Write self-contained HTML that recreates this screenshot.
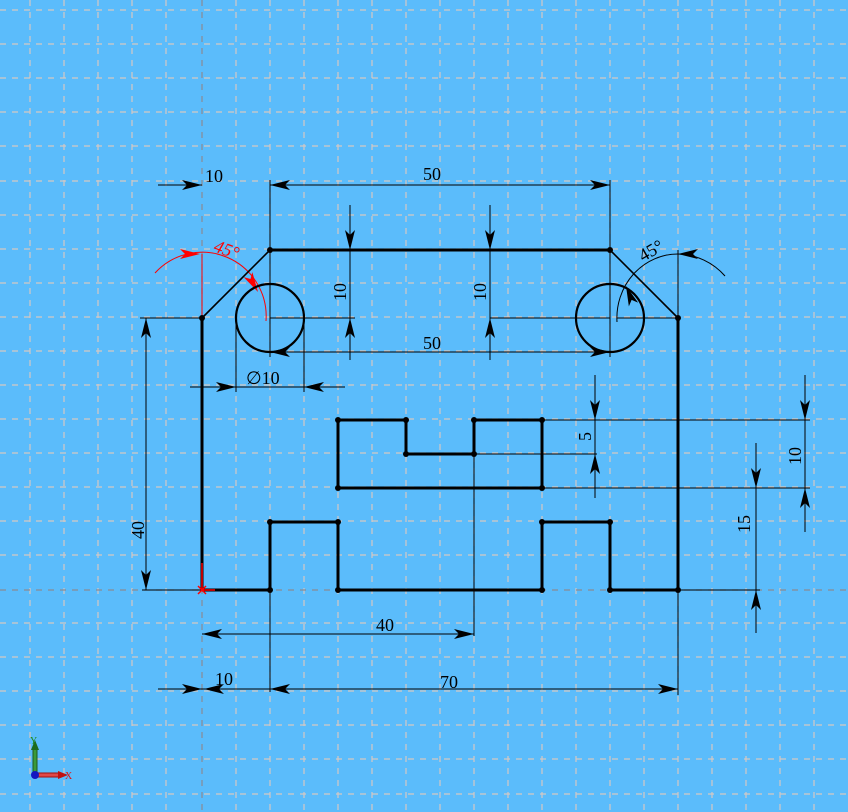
<!DOCTYPE html>
<html><head><meta charset="utf-8"><style>
html,body{margin:0;padding:0;background:#5bbcfb;}
svg{display:block;}
text{font-family:"Liberation Serif",serif;font-size:18px;fill:#000;}
</style></head><body>
<svg width="848" height="812" viewBox="0 0 848 812" xmlns="http://www.w3.org/2000/svg">
<defs>
<polygon id="a" points="0,0 -20,-5 -15,0 -20,5" fill="#000"/>
<polygon id="ar" points="0,0 -20,-5 -15,0 -20,5" fill="#f00"/>
</defs>
<rect width="848" height="812" fill="#5bbcfb"/>
<g stroke="#d4c8c4" stroke-width="1.2" stroke-dasharray="6,6" fill="none">
<line x1="30" y1="0" x2="30" y2="812"/><line x1="64" y1="0" x2="64" y2="812"/><line x1="98" y1="0" x2="98" y2="812"/><line x1="132" y1="0" x2="132" y2="812"/><line x1="166" y1="0" x2="166" y2="812"/><line x1="236" y1="0" x2="236" y2="812"/><line x1="270" y1="0" x2="270" y2="812"/><line x1="304" y1="0" x2="304" y2="812"/><line x1="338" y1="0" x2="338" y2="812"/><line x1="372" y1="0" x2="372" y2="812"/><line x1="406" y1="0" x2="406" y2="812"/><line x1="440" y1="0" x2="440" y2="812"/><line x1="474" y1="0" x2="474" y2="812"/><line x1="508" y1="0" x2="508" y2="812"/><line x1="542" y1="0" x2="542" y2="812"/><line x1="576" y1="0" x2="576" y2="812"/><line x1="610" y1="0" x2="610" y2="812"/><line x1="644" y1="0" x2="644" y2="812"/><line x1="678" y1="0" x2="678" y2="812"/><line x1="712" y1="0" x2="712" y2="812"/><line x1="746" y1="0" x2="746" y2="812"/><line x1="780" y1="0" x2="780" y2="812"/><line x1="814" y1="0" x2="814" y2="812"/>
<line x1="0" y1="10" x2="848" y2="10"/><line x1="0" y1="44" x2="848" y2="44"/><line x1="0" y1="78" x2="848" y2="78"/><line x1="0" y1="112" x2="848" y2="112"/><line x1="0" y1="146" x2="848" y2="146"/><line x1="0" y1="181" x2="848" y2="181"/><line x1="0" y1="215" x2="848" y2="215"/><line x1="0" y1="249" x2="848" y2="249"/><line x1="0" y1="283" x2="848" y2="283"/><line x1="0" y1="317" x2="848" y2="317"/><line x1="0" y1="351" x2="848" y2="351"/><line x1="0" y1="385" x2="848" y2="385"/><line x1="0" y1="419" x2="848" y2="419"/><line x1="0" y1="453" x2="848" y2="453"/><line x1="0" y1="487" x2="848" y2="487"/><line x1="0" y1="521" x2="848" y2="521"/><line x1="0" y1="555" x2="848" y2="555"/><line x1="0" y1="623" x2="848" y2="623"/><line x1="0" y1="657" x2="848" y2="657"/><line x1="0" y1="691" x2="848" y2="691"/><line x1="0" y1="725" x2="848" y2="725"/><line x1="0" y1="759" x2="848" y2="759"/><line x1="0" y1="794" x2="848" y2="794"/>
</g>
<g stroke="#8a8a94" stroke-width="1.2" stroke-dasharray="6,6">
<line x1="202" y1="0" x2="202" y2="812"/><line x1="0" y1="590" x2="848" y2="590"/>
</g>
<g stroke="#000" stroke-width="1" fill="none">
<line x1="158" y1="185" x2="202" y2="185"/><line x1="270" y1="185" x2="610" y2="185"/>
<line x1="270" y1="180" x2="270" y2="250"/><line x1="610" y1="180" x2="610" y2="250"/>
<line x1="350" y1="205" x2="350" y2="360"/><line x1="490" y1="205" x2="490" y2="360"/>
<line x1="270" y1="318" x2="355" y2="318"/><line x1="490" y1="318" x2="610" y2="318"/>
<line x1="270" y1="352" x2="610" y2="352"/>
<line x1="270" y1="250" x2="270" y2="357"/><line x1="610" y1="250" x2="610" y2="357"/>
<line x1="190" y1="387" x2="345" y2="387"/>
<line x1="236" y1="318" x2="236" y2="392"/><line x1="304" y1="318" x2="304" y2="392"/>
<line x1="146" y1="318" x2="146" y2="590"/>
<line x1="140" y1="318" x2="202" y2="318"/><line x1="142" y1="590" x2="202" y2="590"/>
<line x1="595" y1="375" x2="595" y2="498"/>
<line x1="542" y1="420" x2="810" y2="420"/><line x1="474" y1="454" x2="597" y2="454"/><line x1="542" y1="488" x2="810" y2="488"/>
<line x1="805" y1="375" x2="805" y2="532"/>
<line x1="756" y1="443" x2="756" y2="633"/>
<line x1="678" y1="590" x2="760" y2="590"/>
<line x1="474" y1="454" x2="474" y2="636"/>
<line x1="202" y1="634" x2="474" y2="634"/>
<line x1="270" y1="590" x2="270" y2="692"/><line x1="678" y1="590" x2="678" y2="695"/>
<line x1="158" y1="689" x2="678" y2="689"/>
<line x1="617" y1="318" x2="678" y2="318"/>
<line x1="678" y1="250" x2="678" y2="318"/>
<path d="M617,322 A61,64 0 0 1 678,254 A64,64 0 0 1 725,276"/>
</g>
<g stroke="#f00" stroke-width="1" fill="none">
<line x1="202" y1="254" x2="202" y2="318"/>
<path d="M155,273 A64,64 0 0 1 266,321"/>
</g>
<use href="#ar" transform="translate(200,254) rotate(0)"/>
<use href="#ar" transform="translate(258,292) rotate(60)"/>
<text x="214" y="256" style="fill:#f00;font-style:italic" transform="rotate(20 228 250)">45°</text>
<g stroke="#000" stroke-width="3" fill="none" stroke-linejoin="miter">
<polyline points="202,590 202,318"/>
<polyline points="610,250 270,250"/>
<polyline points="678,318 678,590 610,590 610,522 542,522 542,590 338,590 338,522 270,522 270,590 202,590"/>
<polyline points="338,420 406,420 406,454 474,454 474,420 542,420 542,488 338,488 338,420"/>
<circle cx="270" cy="318" r="34" stroke-width="2.2"/>
<circle cx="610" cy="318" r="34" stroke-width="2.2"/>
</g>
<g stroke="#000" stroke-width="1.6">
<line x1="202" y1="318" x2="270" y2="250"/><line x1="610" y1="250" x2="678" y2="318"/>
</g>
<g fill="#000">
<circle cx="202" cy="318" r="3"/><circle cx="270" cy="250" r="3"/><circle cx="610" cy="250" r="3"/><circle cx="678" cy="318" r="3"/>
<circle cx="678" cy="590" r="3"/><circle cx="610" cy="590" r="3"/><circle cx="610" cy="522" r="3"/><circle cx="542" cy="522" r="3"/><circle cx="542" cy="590" r="3"/><circle cx="338" cy="590" r="3"/><circle cx="338" cy="522" r="3"/><circle cx="270" cy="522" r="3"/><circle cx="270" cy="590" r="3"/>
<circle cx="338" cy="420" r="3"/><circle cx="406" cy="420" r="3"/><circle cx="406" cy="454" r="3"/><circle cx="474" cy="454" r="3"/><circle cx="474" cy="420" r="3"/><circle cx="542" cy="420" r="3"/><circle cx="542" cy="488" r="3"/><circle cx="338" cy="488" r="3"/>
</g>
<use href="#a" transform="translate(202,185) rotate(0)"/>
<use href="#a" transform="translate(270,185) rotate(180)"/>
<use href="#a" transform="translate(610,185) rotate(0)"/>
<use href="#a" transform="translate(350,250) rotate(90)"/>
<use href="#a" transform="translate(350,318) rotate(-90)"/>
<use href="#a" transform="translate(490,250) rotate(90)"/>
<use href="#a" transform="translate(490,318) rotate(-90)"/>
<use href="#a" transform="translate(270,352) rotate(180)"/>
<use href="#a" transform="translate(610,352) rotate(0)"/>
<use href="#a" transform="translate(236,387) rotate(0)"/>
<use href="#a" transform="translate(304,387) rotate(180)"/>
<use href="#a" transform="translate(146,318) rotate(-90)"/>
<use href="#a" transform="translate(146,590) rotate(90)"/>
<use href="#a" transform="translate(595,420) rotate(90)"/>
<use href="#a" transform="translate(595,454) rotate(-90)"/>
<use href="#a" transform="translate(805,420) rotate(90)"/>
<use href="#a" transform="translate(805,488) rotate(-90)"/>
<use href="#a" transform="translate(756,488) rotate(90)"/>
<use href="#a" transform="translate(756,590) rotate(-90)"/>
<use href="#a" transform="translate(474,634) rotate(0)"/>
<use href="#a" transform="translate(202,634) rotate(180)"/>
<use href="#a" transform="translate(202,689) rotate(0)"/>
<use href="#a" transform="translate(204,689) rotate(180)"/>
<use href="#a" transform="translate(270,689) rotate(180)"/>
<use href="#a" transform="translate(678,689) rotate(0)"/>
<use href="#a" transform="translate(678,254) rotate(180)"/>
<use href="#a" transform="translate(626,286) rotate(-112)"/>
<text x="205" y="182">10</text>
<text x="423" y="180">50</text>
<text x="423" y="349">50</text>
<text x="246" y="384">∅10</text>
<text x="376" y="631">40</text>
<text x="215" y="685">10</text>
<text x="440" y="688">70</text>
<text transform="translate(346,301) rotate(-90)">10</text>
<text transform="translate(486,301) rotate(-90)">10</text>
<text transform="translate(144,539) rotate(-90)">40</text>
<text transform="translate(591,441) rotate(-90)">5</text>
<text transform="translate(801,465) rotate(-90)">10</text>
<text transform="translate(750,533) rotate(-90)">15</text>
<text transform="translate(643,262) rotate(-30)">45°</text>
<g stroke="#f00" stroke-width="1.5">
<line x1="202" y1="590" x2="202" y2="563"/><line x1="202" y1="590" x2="215" y2="590"/>
<line x1="198" y1="586" x2="206" y2="594"/><line x1="206" y1="586" x2="198" y2="594"/>
</g>
<rect x="33" y="747" width="4" height="28" fill="#3a9a3a" stroke="#1d5a1d" stroke-width="1"/>
<polygon points="35,740 31,750 39,750" fill="#1d6a1d"/>
<rect x="37" y="773" width="24" height="4" fill="#e04848" stroke="#a01010" stroke-width="1"/>
<polygon points="68,775 58,771 58,779" fill="#c01010"/>
<circle cx="35" cy="775" r="4" fill="#1515c0"/>
<text x="30" y="744" style="font-size:10px;fill:#1a8a1a">Y</text>
<text x="65" y="779" style="font-size:10px;fill:#e01010">X</text>
</svg>
</body></html>
